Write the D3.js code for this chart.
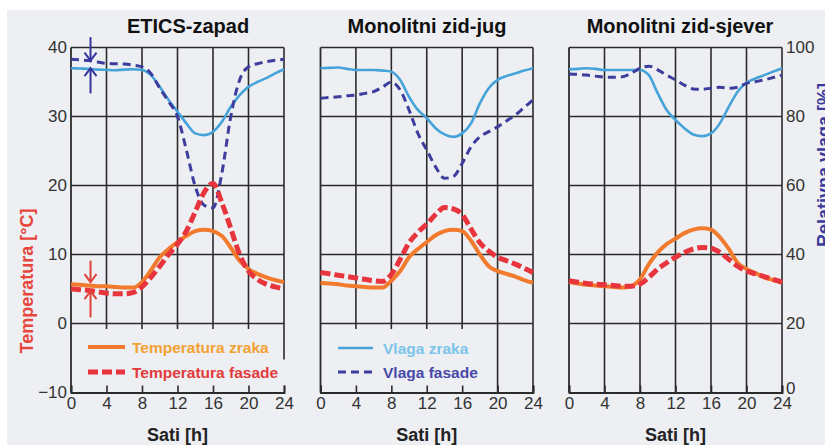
<!DOCTYPE html>
<html>
<head>
<meta charset="utf-8">
<script src="https://cdn.jsdelivr.net/npm/d3@7"></script>
<style>
  body { margin: 0; background: #ffffff; }
  svg { display: block; font-family: "Liberation Sans", Arial, sans-serif; }
</style>
</head>
<body>
<div id="chart"></div>
<script>
// hours of the day
var hours = d3.range(0, 25);
var xTicks = [0, 4, 8, 12, 16, 20, 24];
var tTicks = [-10, 0, 10, 20, 30, 40];
var rhTicks = [0, 20, 40, 60, 80, 100];

// ETICS-zapad
var zapadZrakT   = [5.7,5.6,5.5,5.4,5.4,5.3,5.2,5.2,6.0,7.7,9.6,10.8,11.8,12.7,13.4,13.6,13.4,12.7,11.0,9.1,7.9,7.2,6.7,6.3,6.0];
var zapadFasadaT = [5.0,4.9,4.8,4.6,4.4,4.3,4.3,4.5,5.3,6.7,8.3,10.0,11.5,13.4,16.2,19.0,20.3,17.5,13.8,10.0,7.6,6.4,5.7,5.3,5.0];
var zapadZrakRH   = [94.0,93.9,93.8,93.6,93.5,93.4,93.6,93.7,93.5,92.0,88.6,84.8,81.4,78.0,75.1,74.6,75.6,78.5,82.8,86.2,88.6,90.0,91.1,92.5,93.7];
var zapadFasadaRH = [96.6,96.4,96.2,95.8,95.4,95.3,95.2,94.9,94.4,92.5,88.2,84.3,80.0,70.3,59.7,54.3,53.5,63.6,80.0,90.6,94.4,95.3,95.9,96.3,96.6];

// Monolitni zid-jug
var jugZrakT   = [5.9,5.8,5.7,5.5,5.4,5.3,5.2,5.2,6.2,7.6,9.6,10.8,11.8,12.8,13.4,13.6,13.4,12.0,10.0,8.3,7.6,7.2,6.8,6.3,5.9];
var jugFasadaT = [7.4,7.2,7.0,6.8,6.6,6.4,6.2,6.1,7.1,9.3,11.7,13.2,14.4,15.8,16.8,16.6,15.8,13.7,11.7,10.5,9.6,9.1,8.6,8.0,7.4];
var jugZrakRH   = [94.0,94.1,94.2,93.8,93.5,93.5,93.5,93.3,93.0,90.6,85.7,81.9,79.5,76.6,74.8,74.1,75.1,78.0,83.8,88.2,90.6,91.7,92.5,93.3,94.0];
var jugFasadaRH = [85.3,85.5,85.7,86.0,86.2,86.7,87.2,88.5,90.0,87.7,81.9,75.1,70.3,65.4,62.1,62.6,66.4,71.2,74.1,75.6,77.0,78.7,80.4,82.6,84.8];

// Monolitni zid-sjever
var sjeverZrakT   = [6.0,5.8,5.6,5.5,5.4,5.3,5.2,5.4,6.4,8.6,10.3,11.5,12.3,13.1,13.6,13.8,13.6,12.5,10.8,8.8,7.9,7.3,6.7,6.3,5.9];
var sjeverFasadaT = [6.2,6.0,5.8,5.7,5.6,5.5,5.4,5.4,5.7,6.7,7.9,8.8,9.6,10.3,10.8,11.0,10.9,10.3,9.3,8.3,7.6,7.2,6.8,6.4,6.0];
var sjeverZrakRH   = [93.7,93.8,94.0,93.8,93.5,93.5,93.5,93.5,93.5,92.0,86.7,81.9,79.0,76.6,74.8,74.3,75.1,78.0,82.8,87.2,89.8,91.0,92.0,93.0,94.0];
var sjeverFasadaRH = [92.3,92.2,92.0,91.7,91.4,91.4,91.5,92.5,94.0,94.6,93.5,92.0,90.6,89.1,88.0,87.9,88.2,88.5,88.2,88.5,89.6,90.1,90.6,91.3,92.0];

// difference arrows in the first panel (hour, from, to)
var arrowsRH = [{h: 2.2, from: 103, to: 96.2}, {h: 2.2, from: 86.7, to: 94.0}];
var arrowsT  = [{h: 2.2, from: 9.1, to: 6.0}, {h: 2.2, from: 0.9, to: 4.7}];

var W = 825, H = 445;
var top_ = 47.5, bottom = 392.5;

var col = {
  zrakT: "#f27a2c",
  fasadaT: "#e8343c",
  zrakRH: "#45a3da",
  fasadaRH: "#3d3d9e",
  grid: "#2b2b2b",
  text: "#333333"
};

var svg = d3.select("#chart").append("svg")
  .attr("width", W)
  .attr("height", H);

svg.append("rect")
  .attr("x", 7).attr("y", 10)
  .attr("width", W - 7).attr("height", H - 10)
  .style("fill", "#edeff2");

var yT = d3.scaleLinear().domain([-10, 40]).range([bottom, top_]);
var yRH = d3.scaleLinear().domain([0, 100]).range([bottom, top_]);

panel({
  title: "ETICS-zapad", titleX: 188, left: 71, right: 284,
  zrakT: zapadZrakT, fasadaT: zapadFasadaT, zrakRH: zapadZrakRH, fasadaRH: zapadFasadaRH,
  gridEnd: function(v) { return v === 24 ? -5.2 : -0.8; },
  leftAxis: true, legend: "temp", arrows: true
});
panel({
  title: "Monolitni zid-jug", titleX: 427, left: 320.5, right: 533,
  zrakT: jugZrakT, fasadaT: jugFasadaT, zrakRH: jugZrakRH, fasadaRH: jugFasadaRH,
  gridEnd: function(v) { return v >= 20 ? -10 : -0.8; },
  legend: "rh"
});
panel({
  title: "Monolitni zid-sjever", titleX: 680, left: 569, right: 782,
  zrakT: sjeverZrakT, fasadaT: sjeverFasadaT, zrakRH: sjeverZrakRH, fasadaRH: sjeverFasadaRH,
  gridEnd: function(v) { return -10; },
  rightAxis: true
});

// axis titles
svg.append("text")
  .attr("transform", "translate(33,281) rotate(-90)")
  .style("text-anchor", "middle")
  .style("font-size", "18px")
  .style("font-weight", "bold")
  .style("fill", "#e8453c")
  .text("Temperatura [°C]");

svg.append("text")
  .attr("transform", "translate(830,165) rotate(-90)")
  .style("text-anchor", "middle")
  .style("font-size", "18px")
  .style("font-weight", "bold")
  .style("fill", "#3a3a9c")
  .text("Relativna vlaga [%]");

function panel(p) {
  var x = d3.scaleLinear().domain([0, 24]).range([p.left, p.right]);
  var g = svg.append("g");

  // horizontal grid + frame
  g.selectAll("line.h")
    .data([0, 10, 20, 30, 40]).enter()
    .append("line")
    .attr("x1", x(0)).attr("x2", x(24))
    .attr("y1", function(d) { return yT(d); })
    .attr("y2", function(d) { return yT(d); })
    .style("stroke", col.grid)
    .style("stroke-width", 1.6);

  g.selectAll("line.v")
    .data([4, 8, 12, 16, 20, 24]).enter()
    .append("line")
    .attr("x1", function(d) { return x(d); })
    .attr("x2", function(d) { return x(d); })
    .attr("y1", yT(40))
    .attr("y2", function(d) { return yT(p.gridEnd(d)); })
    .style("stroke", col.grid)
    .style("stroke-width", 1.6);

  g.append("line")
    .attr("x1", x(0)).attr("x2", x(0))
    .attr("y1", yT(40)).attr("y2", yT(-10))
    .style("stroke", col.grid).style("stroke-width", 1.8);

  // bottom axis with upward ticks
  var xa = g.append("g")
    .attr("transform", "translate(0," + yT(-10) + ")")
    .call(d3.axisBottom(x).tickValues(xTicks).tickSize(-7).tickPadding(4));
  xa.select(".domain").style("stroke", col.grid).style("stroke-width", 1.8);
  xa.selectAll(".tick line").style("stroke", col.grid).style("stroke-width", 1.6);
  xa.selectAll("text")
    .style("font-size", "17px")
    .style("fill", col.text)
    .style("font-family", "Liberation Sans, Arial, sans-serif");

  g.append("text")
    .attr("x", (x(0) + x(24)) / 2)
    .attr("y", 441)
    .style("text-anchor", "middle")
    .style("font-size", "18px")
    .style("font-weight", "bold")
    .style("fill", "#222")
    .text("Sati [h]");

  g.append("text")
    .attr("x", p.titleX)
    .attr("y", 33)
    .style("text-anchor", "middle")
    .style("font-size", "20px")
    .style("font-weight", "bold")
    .style("fill", "#111")
    .text(p.title);

  if (p.leftAxis) {
    var ya = g.append("g")
      .attr("transform", "translate(" + x(0) + ",0)")
      .call(d3.axisLeft(yT).tickValues(tTicks).tickSize(0).tickPadding(4));
    ya.select(".domain").remove();
    ya.selectAll("text")
      .style("font-size", "17px")
      .style("fill", col.text)
      .style("font-family", "Liberation Sans, Arial, sans-serif");
  }
  if (p.rightAxis) {
    var yr = g.append("g")
      .attr("transform", "translate(" + x(24) + ",0)")
      .call(d3.axisRight(yRH).tickValues(rhTicks).tickSize(0).tickPadding(4));
    yr.select(".domain").remove();
    yr.selectAll("text")
      .style("font-size", "17px")
      .style("fill", col.text)
      .style("font-family", "Liberation Sans, Arial, sans-serif");
    // lift the bottom "0" a little, as in the source figure
    yr.selectAll(".tick")
      .filter(function(d) { return d === 0; })
      .select("text")
      .attr("dy", "0.05em");
  }

  var lineT = d3.line()
    .x(function(d, i) { return x(hours[i]); })
    .y(function(d) { return yT(d); })
    .curve(d3.curveMonotoneX);
  var lineRH = d3.line()
    .x(function(d, i) { return x(hours[i]); })
    .y(function(d) { return yRH(d); })
    .curve(d3.curveMonotoneX);

  g.append("path").datum(p.zrakRH)
    .attr("d", lineRH)
    .style("fill", "none")
    .style("stroke", col.zrakRH)
    .style("stroke-width", 2.6);

  g.append("path").datum(p.fasadaRH)
    .attr("d", lineRH)
    .style("fill", "none")
    .style("stroke", col.fasadaRH)
    .style("stroke-width", 3)
    .style("stroke-dasharray", "8,5");

  g.append("path").datum(p.zrakT)
    .attr("d", lineT)
    .style("fill", "none")
    .style("stroke", col.zrakT)
    .style("stroke-width", 4);

  g.append("path").datum(p.fasadaT)
    .attr("d", lineT)
    .style("fill", "none")
    .style("stroke", col.fasadaT)
    .style("stroke-width", 5)
    .style("stroke-dasharray", "10,4");

  if (p.legend === "temp") {
    legend(g, 88, 125, 347, 372, col.zrakT, col.fasadaT, 4, 5, "10,4",
      "Temperatura zraka", "#f3a135", "Temperatura fasade", "#e23a3a", 132);
  }
  if (p.legend === "rh") {
    legend(g, 338, 373, 348, 372, col.zrakRH, col.fasadaRH, 2.6, 3, "8,5",
      "Vlaga zraka", "#7cc4ea", "Vlaga fasade", "#4848a8", 383);
  }

  if (p.arrows) {
    arrowsRH.forEach(function(a) { arrow(g, x(a.h), yRH(a.from), yRH(a.to), "#3535a0"); });
    arrowsT.forEach(function(a) { arrow(g, x(a.h), yT(a.from), yT(a.to), "#e0403a"); });
  }
}

function legend(g, x1, x2, y1, y2, c1, c2, w1, w2, dash, t1, tc1, t2, tc2, tx) {
  g.append("line")
    .attr("x1", x1).attr("x2", x2).attr("y1", y1).attr("y2", y1)
    .style("stroke", c1).style("stroke-width", w1);
  g.append("line")
    .attr("x1", x1).attr("x2", x2).attr("y1", y2).attr("y2", y2)
    .style("stroke", c2).style("stroke-width", w2)
    .style("stroke-dasharray", dash);
  g.append("text")
    .attr("x", tx).attr("y", y1 + 6)
    .style("font-size", "15.5px").style("font-weight", "bold")
    .style("fill", tc1)
    .text(t1);
  g.append("text")
    .attr("x", tx).attr("y", y2 + 6)
    .style("font-size", "15.5px").style("font-weight", "bold")
    .style("fill", tc2)
    .text(t2);
}

function arrow(g, ax, y0, y1, c) {
  var dir = y1 > y0 ? 1 : -1;
  g.append("line")
    .attr("x1", ax).attr("x2", ax).attr("y1", y0).attr("y2", y1)
    .style("stroke", c).style("stroke-width", 2);
  g.append("path")
    .attr("d", "M" + (ax - 6) + "," + (y1 - dir * 8) + "L" + ax + "," + y1 + "L" + (ax + 6) + "," + (y1 - dir * 8))
    .style("fill", "none")
    .style("stroke", c)
    .style("stroke-width", 2);
}
</script>
</body>
</html>
